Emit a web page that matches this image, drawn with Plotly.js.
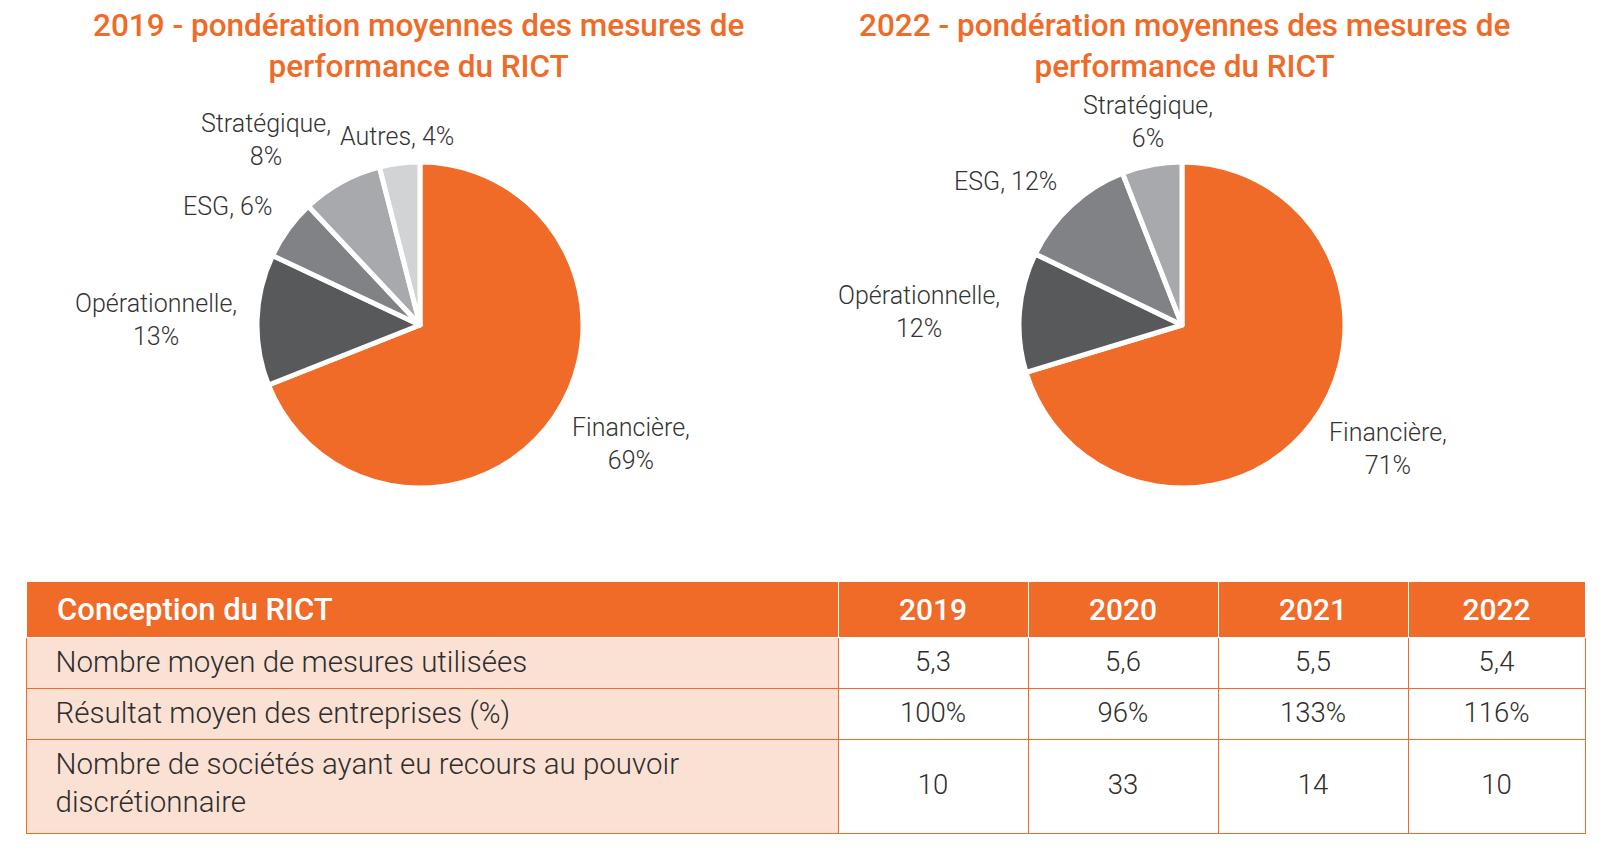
<!DOCTYPE html>
<html>
<head>
<meta charset="utf-8">
<script src="https://cdn.plot.ly/plotly-3.0.1.min.js"></script>
<style>html,body{margin:0;padding:0;background:#fff;}#chart{width:1619px;height:856px;}</style>
</head>
<body>
<div id="chart"></div>
<script>
// ---- data ----
const categories2019 = ['Financière', 'Opérationnelle', 'ESG', 'Stratégique', 'Autres'];
const values2019 = [69, 13, 6, 8, 4];
const categories2022 = ['Financière', 'Opérationnelle', 'ESG', 'Stratégique'];
const values2022 = [71, 12, 12, 6];
const title2019 = '2019 - pondération moyennes des mesures de<br>performance du RICT';
const title2022 = '2022 - pondération moyennes des mesures de<br>performance du RICT';

const tableHeaderLabel = 'Conception du RICT';
const tableYears = ['2019', '2020', '2021', '2022'];
const tableRowLabels = [
  'Nombre moyen de mesures utilisées',
  'Résultat moyen des entreprises (%)',
  'Nombre de sociétés ayant eu recours au pouvoir<br>discrétionnaire'
];
const avgMeasures = ['5,3', '5,6', '5,5', '5,4'];
const avgResult = ['100%', '96%', '133%', '116%'];
const discretionCount = ['10', '33', '14', '10'];

// ---- style ----
const W = 1619, H = 856;
const ORANGE = '#F06A28';
const sliceColors = ['#F06A28', '#58595B', '#808285', '#A7A9AC', '#D1D3D4'];
const FONT = 'Roboto, "Liberation Sans", sans-serif';
const LABEL_COLOR = '#333333';
const labelBreaks2019 = ['<br>', '<br>', ' ', '<br>', ' '];
const labelBreaks2022 = ['<br>', '<br>', ' ', '<br>'];
const dom2019 = {x: [257 / W, 583 / W], y: [1 - 488 / H, 1 - 162 / H]};
const dom2022 = {x: [1019 / W, 1345 / W], y: [1 - 488 / H, 1 - 162 / H]};
const LABEL_GAP_X = 18, LABEL_GAP_UP = 10, LABEL_GAP_DOWN = -10;

function pieTrace(cats, vals, dom) {
  return {
    type: 'pie',
    labels: cats,
    values: vals,
    textinfo: 'none',
    sort: false,
    direction: 'clockwise',
    rotation: 0,
    hoverinfo: 'label+value',
    marker: {colors: sliceColors.slice(0, cats.length), line: {color: '#ffffff', width: 5}},
    domain: dom,
    showlegend: false
  };
}

// slice labels placed just outside each slice, along the slice's middle angle
function sliceLabels(cats, vals, breaks, dom) {
  const cx = (dom.x[0] + dom.x[1]) / 2 * W;
  const cy = (1 - (dom.y[0] + dom.y[1]) / 2) * H;
  const r = Math.min((dom.x[1] - dom.x[0]) * W, (dom.y[1] - dom.y[0]) * H) / 2;
  const total = vals.reduce((a, b) => a + b, 0);
  let cum = 0;
  return cats.map((c, i) => {
    const mid = (cum + vals[i] / 2) / total * 2 * Math.PI;
    cum += vals[i];
    const ux = Math.sin(mid), uy = -Math.cos(mid);
    const gapY = uy > 0 ? LABEL_GAP_DOWN : LABEL_GAP_UP;
    const px = cx + (r + LABEL_GAP_X) * ux, py = cy + (r + gapY) * uy;
    return {
      text: c + ',' + breaks[i] + vals[i] + '%',
      xref: 'paper', yref: 'paper', x: px / W, y: 1 - py / H,
      xanchor: ux > 0.35 ? 'left' : (ux < -0.35 ? 'right' : 'center'),
      yanchor: uy > 0.35 ? 'top' : (uy < -0.35 ? 'bottom' : 'middle'),
      align: 'center', showarrow: false,
      font: {family: FONT, size: 25, color: LABEL_COLOR, weight: 300}
    };
  });
}

// table cell text helpers (leading empty lines + sized span = vertical centring)
const pad = '\u00a0\u00a0\u00a0';
const span = (t, size) => '<span style="font-size:' + size + 'px">' + t + '</span>';
const BODY_SIZE = 29.5, NUM_SIZE = 27.5, HEAD_SIZE = 31, YEAR_SIZE = 30;

function firstColCell(label) {
  const lines = label.split('<br>');
  if (lines.length === 1) return '<br>' + span(pad + label, BODY_SIZE);
  return '<br>' + span(pad + lines[0], BODY_SIZE) + '<br><br>' + span(pad + lines[1], BODY_SIZE) + span('\u00a0', 56);
}
function numberCell(v, rowIndex, nRows) {
  const lead = rowIndex === nRows - 1 ? '<br><br><br><br>' : '<br><br>';
  return lead + span(v, NUM_SIZE);
}
const headCell = t => '\u00a0<br><br>' + t;

const numberRows = [avgMeasures, avgResult, discretionCount];
const cellValues = [tableRowLabels.map(firstColCell)].concat(
  tableYears.map((y, c) => numberRows.map((row, ri) => numberCell(row[c], ri, numberRows.length)))
);

const tableTrace = {
  type: 'table',
  domain: {x: [26 / W, 1585 / W], y: [0, 1 - 581 / H]},
  columnwidth: [812, 190, 190, 190, 177],
  header: {
    values: [headCell(span(pad + tableHeaderLabel, HEAD_SIZE))].concat(tableYears.map(y => headCell(span(y, YEAR_SIZE)))),
    align: ['left', 'center', 'center', 'center', 'center'],
    fill: {color: ORANGE},
    line: {color: '#ffffff', width: 1},
    font: {family: FONT, size: 9, color: '#ffffff', weight: 500},
    height: 56
  },
  cells: {
    values: cellValues,
    align: ['left', 'center', 'center', 'center', 'center'],
    fill: {color: ['#FBE1D4', '#ffffff', '#ffffff', '#ffffff', '#ffffff']},
    line: {color: ORANGE, width: 1},
    font: {family: FONT, size: [14.6, 9, 9, 9, 9], color: '#2E2E2E', weight: 300},
    height: 51
  }
};

const data = [
  pieTrace(categories2019, values2019, dom2019),
  pieTrace(categories2022, values2022, dom2022),
  tableTrace
];

const titleFont = {family: FONT, size: 31.5, color: ORANGE, weight: 500};
const layout = {
  width: W,
  height: H,
  margin: {l: 0, r: 0, t: 0, b: 0},
  paper_bgcolor: '#ffffff',
  font: {family: FONT},
  annotations: [
    {text: title2019, xref: 'paper', yref: 'paper', x: 418 / W, y: 1 - 5 / H, xanchor: 'center', yanchor: 'top', showarrow: false, font: titleFont},
    {text: title2022, xref: 'paper', yref: 'paper', x: 1184 / W, y: 1 - 5 / H, xanchor: 'center', yanchor: 'top', showarrow: false, font: titleFont}
  ].concat(sliceLabels(categories2019, values2019, labelBreaks2019, dom2019))
   .concat(sliceLabels(categories2022, values2022, labelBreaks2022, dom2022))
};

Plotly.newPlot('chart', data, layout, {displayModeBar: false, staticPlot: true});
</script>
</body>
</html>
